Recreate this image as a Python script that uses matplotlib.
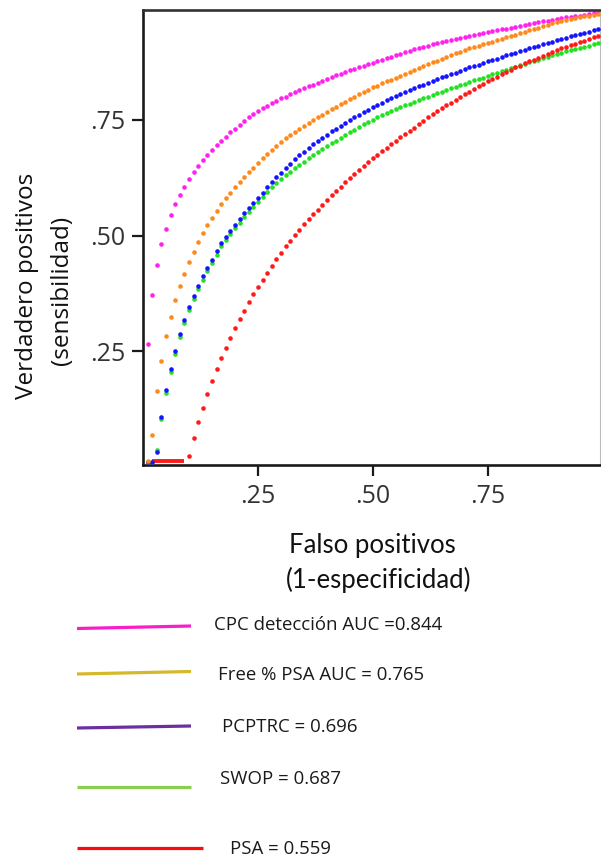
import matplotlib
matplotlib.use("Agg")
import matplotlib.pyplot as plt

# ---------------- data ----------------
FPR = [0.01, 0.02, 0.03, 0.04, 0.05, 0.06, 0.07, 0.08, 0.09, 0.10,
       0.11, 0.12, 0.13, 0.14, 0.15, 0.16, 0.17, 0.18, 0.19, 0.20,
       0.21, 0.22, 0.23, 0.24, 0.25, 0.26, 0.27, 0.28, 0.29, 0.30,
       0.31, 0.32, 0.33, 0.34, 0.35, 0.36, 0.37, 0.38, 0.39, 0.40,
       0.41, 0.42, 0.43, 0.44, 0.45, 0.46, 0.47, 0.48, 0.49, 0.50,
       0.51, 0.52, 0.53, 0.54, 0.55, 0.56, 0.57, 0.58, 0.59, 0.60,
       0.61, 0.62, 0.63, 0.64, 0.65, 0.66, 0.67, 0.68, 0.69, 0.70,
       0.71, 0.72, 0.73, 0.74, 0.75, 0.76, 0.77, 0.78, 0.79, 0.80,
       0.81, 0.82, 0.83, 0.84, 0.85, 0.86, 0.87, 0.88, 0.89, 0.90,
       0.91, 0.92, 0.93, 0.94, 0.95, 0.96, 0.97, 0.98, 0.99, 1.00]

CPC = [0.266, 0.372, 0.436, 0.482, 0.514, 0.544, 0.568, 0.588, 0.606, 0.623,
       0.637, 0.651, 0.664, 0.675, 0.685, 0.695, 0.705, 0.713, 0.723, 0.731,
       0.739, 0.747, 0.755, 0.762, 0.769, 0.775, 0.780, 0.786, 0.791, 0.796,
       0.800, 0.805, 0.809, 0.814, 0.818, 0.822, 0.826, 0.830, 0.834, 0.838,
       0.842, 0.846, 0.849, 0.853, 0.857, 0.860, 0.864, 0.867, 0.870, 0.873,
       0.876, 0.880, 0.883, 0.886, 0.890, 0.893, 0.896, 0.899, 0.902, 0.905,
       0.907, 0.910, 0.913, 0.915, 0.918, 0.920, 0.923, 0.925, 0.927, 0.929,
       0.931, 0.933, 0.935, 0.937, 0.939, 0.941, 0.943, 0.945, 0.947, 0.949,
       0.951, 0.953, 0.955, 0.957, 0.959, 0.961, 0.963, 0.964, 0.966, 0.968,
       0.969, 0.971, 0.972, 0.974, 0.975, 0.977, 0.978, 0.980, 0.981, 0.983]

FREE_PSA = [0.013, 0.069, 0.164, 0.229, 0.284, 0.325, 0.361, 0.391, 0.418, 0.443,
            0.464, 0.487, 0.505, 0.523, 0.539, 0.553, 0.568, 0.581, 0.593, 0.605,
            0.616, 0.627, 0.637, 0.647, 0.657, 0.667, 0.676, 0.685, 0.694, 0.702,
            0.710, 0.717, 0.724, 0.731, 0.737, 0.743, 0.749, 0.755, 0.761, 0.767,
            0.773, 0.778, 0.784, 0.789, 0.795, 0.800, 0.805, 0.810, 0.815, 0.820,
            0.824, 0.829, 0.833, 0.837, 0.841, 0.845, 0.849, 0.853, 0.857, 0.862,
            0.866, 0.870, 0.874, 0.878, 0.882, 0.886, 0.890, 0.894, 0.897, 0.901,
            0.904, 0.907, 0.910, 0.913, 0.916, 0.919, 0.922, 0.925, 0.928, 0.931,
            0.934, 0.937, 0.940, 0.943, 0.946, 0.949, 0.952, 0.955, 0.958, 0.961,
            0.963, 0.965, 0.967, 0.969, 0.971, 0.973, 0.975, 0.977, 0.979, 0.981]

PCPTRC = [0.012, 0.012, 0.032, 0.108, 0.166, 0.212, 0.251, 0.288, 0.318, 0.346,
          0.370, 0.392, 0.413, 0.431, 0.448, 0.466, 0.484, 0.498, 0.511, 0.524,
          0.536, 0.548, 0.559, 0.570, 0.581, 0.593, 0.604, 0.615, 0.626, 0.636,
          0.646, 0.655, 0.665, 0.673, 0.681, 0.689, 0.697, 0.704, 0.711, 0.718,
          0.725, 0.731, 0.737, 0.743, 0.749, 0.755, 0.761, 0.766, 0.772, 0.777,
          0.782, 0.787, 0.792, 0.797, 0.801, 0.806, 0.810, 0.814, 0.818, 0.822,
          0.826, 0.830, 0.834, 0.838, 0.842, 0.845, 0.849, 0.852, 0.856, 0.859,
          0.863, 0.866, 0.869, 0.873, 0.876, 0.879, 0.882, 0.886, 0.889, 0.892,
          0.895, 0.898, 0.901, 0.904, 0.907, 0.910, 0.913, 0.916, 0.919, 0.922,
          0.925, 0.927, 0.930, 0.933, 0.935, 0.938, 0.940, 0.943, 0.945, 0.948]

SWOP = [0.012, 0.012, 0.038, 0.105, 0.160, 0.205, 0.245, 0.282, 0.312, 0.339,
        0.363, 0.385, 0.405, 0.424, 0.441, 0.459, 0.477, 0.490, 0.503, 0.516,
        0.528, 0.540, 0.551, 0.562, 0.573, 0.584, 0.594, 0.604, 0.613, 0.622,
        0.630, 0.638, 0.646, 0.653, 0.660, 0.667, 0.674, 0.680, 0.687, 0.693,
        0.699, 0.705, 0.711, 0.717, 0.723, 0.729, 0.734, 0.740, 0.745, 0.750,
        0.755, 0.760, 0.764, 0.769, 0.773, 0.777, 0.781, 0.785, 0.789, 0.793,
        0.797, 0.800, 0.804, 0.807, 0.811, 0.814, 0.818, 0.821, 0.825, 0.828,
        0.831, 0.835, 0.838, 0.841, 0.845, 0.848, 0.851, 0.855, 0.858, 0.861,
        0.864, 0.868, 0.871, 0.874, 0.877, 0.880, 0.883, 0.886, 0.889, 0.892,
        0.895, 0.898, 0.900, 0.903, 0.905, 0.908, 0.910, 0.913, 0.915, 0.917]

PSA = [0.013, 0.013, 0.013, 0.013, 0.013, 0.013, 0.013, 0.013, 0.013, 0.025,
       0.063, 0.097, 0.129, 0.159, 0.186, 0.212, 0.236, 0.258, 0.279, 0.300,
       0.320, 0.338, 0.356, 0.373, 0.389, 0.405, 0.420, 0.435, 0.449, 0.463,
       0.477, 0.489, 0.502, 0.513, 0.525, 0.536, 0.546, 0.556, 0.566, 0.576,
       0.587, 0.597, 0.605, 0.616, 0.625, 0.634, 0.642, 0.651, 0.659, 0.667,
       0.675, 0.683, 0.690, 0.698, 0.705, 0.712, 0.719, 0.726, 0.733, 0.741,
       0.748, 0.755, 0.762, 0.768, 0.775, 0.781, 0.787, 0.793, 0.799, 0.805,
       0.811, 0.817, 0.822, 0.828, 0.833, 0.838, 0.843, 0.848, 0.853, 0.858,
       0.863, 0.867, 0.872, 0.876, 0.880, 0.884, 0.888, 0.892, 0.896, 0.900,
       0.904, 0.907, 0.911, 0.914, 0.918, 0.921, 0.925, 0.928, 0.931, 0.935]

X_TICKS = [0.25, 0.50, 0.75]
X_TICK_LABELS = [".25", ".50", ".75"]
Y_TICKS = [0.25, 0.50, 0.75]
Y_TICK_LABELS = [".25", ".50", ".75"]

LEGEND_LABELS = ["CPC detección AUC =0.844", "Free % PSA AUC = 0.765",
                 "PCPTRC = 0.696", "SWOP = 0.687", "PSA = 0.559"]

# ---------------- figure ----------------
W, H = 601, 858
fig = plt.figure(figsize=(W / 100, H / 100), dpi=100)
fig.patch.set_facecolor("white")

ax = fig.add_axes([143 / W, 1 - 465 / H, (600 - 143) / W, (465 - 10) / H])
ax.set_xlim(0.0, 0.994)
ax.set_ylim(0.005, 0.987)

dot = dict(linestyle="none", marker="o", markersize=3.3, markeredgewidth=0)
ax.plot(FPR, CPC, color="#FF22EE", zorder=2, **dot)
ax.plot(FPR, SWOP, color="#22E022", zorder=3, **dot)
# flat initial part of PSA drawn as a short solid run of points
ax.plot(FPR[1:9], PSA[1:9], color="#FF1A1A", lw=2.8, solid_capstyle="butt", zorder=4)
ax.plot(FPR[9:], PSA[9:], color="#FF1A1A", zorder=4, **dot)
ax.plot(FPR, PCPTRC, color="#1414FF", zorder=5, **dot)
ax.plot(FPR, FREE_PSA, color="#FF8A1C", zorder=6, **dot)

for side in ["left", "bottom"]:
    ax.spines[side].set_linewidth(1.9)
    ax.spines[side].set_color("#1a1a1a")
ax.spines["top"].set_linewidth(1.9)
ax.spines["top"].set_color("#333333")
ax.spines["right"].set_linewidth(0.8)
ax.spines["right"].set_color("#bbbbbb")

tick_font = dict(family="Open Sans", size=18, color="#333333")
ax.set_xticks(X_TICKS)
ax.set_xticklabels(X_TICK_LABELS, fontdict=tick_font)
ax.set_yticks(Y_TICKS)
ax.set_yticklabels(Y_TICK_LABELS, fontdict=tick_font)
ax.tick_params(axis="both", direction="out", length=8, width=1.6, color="#1a1a1a")
ax.tick_params(axis="x", pad=6)
ax.tick_params(axis="y", pad=5)

# axis titles
fig.text(27 / W, 1 - 286 / H, "Verdadero positivos", rotation=90, ha="center", va="center",
         fontsize=17.5, family="Open Sans", color="#111111")
fig.text(62 / W, 1 - 290 / H, "(sensibilidad)", rotation=90, ha="center", va="center",
         fontsize=17.5, family="Open Sans", color="#111111")
fig.text(372 / W, 1 - 545 / H, "Falso positivos", ha="center", va="center",
         fontsize=18.5, family="Lato", color="#111111")
fig.text(379 / W, 1 - 580 / H, "(1-especificidad)", ha="center", va="center",
         fontsize=18.5, family="Lato", color="#111111")

# manual legend
ov = fig.add_axes([0, 0, 1, 1], facecolor="none")
ov.set_xlim(0, W)
ov.set_ylim(H, 0)
ov.axis("off")
leg_colors = ["#F81DC8", "#D6B928", "#6B2FA0", "#8ACF4E", "#FF0A0A"]
leg_lines = [([77, 191], [628.5, 626]), ([77, 191], [674, 671.5]), ([77, 191], [728, 726]),
             ([77, 191], [787, 787]), ([77, 203], [848, 848])]
leg_text_pos = [(214, 625), (218, 675), (222, 727), (220, 779), (230, 849)]
for c, (lx, ly), (tx, ty), lab in zip(leg_colors, leg_lines, leg_text_pos, LEGEND_LABELS):
    ov.plot(lx, ly, color=c, lw=2.3, solid_capstyle="butt")
    ov.text(tx, ty, lab, ha="left", va="center", fontsize=13.4, family="Open Sans", color="#1a1a1a")

fig.savefig("out.png", dpi=100, facecolor="white")
